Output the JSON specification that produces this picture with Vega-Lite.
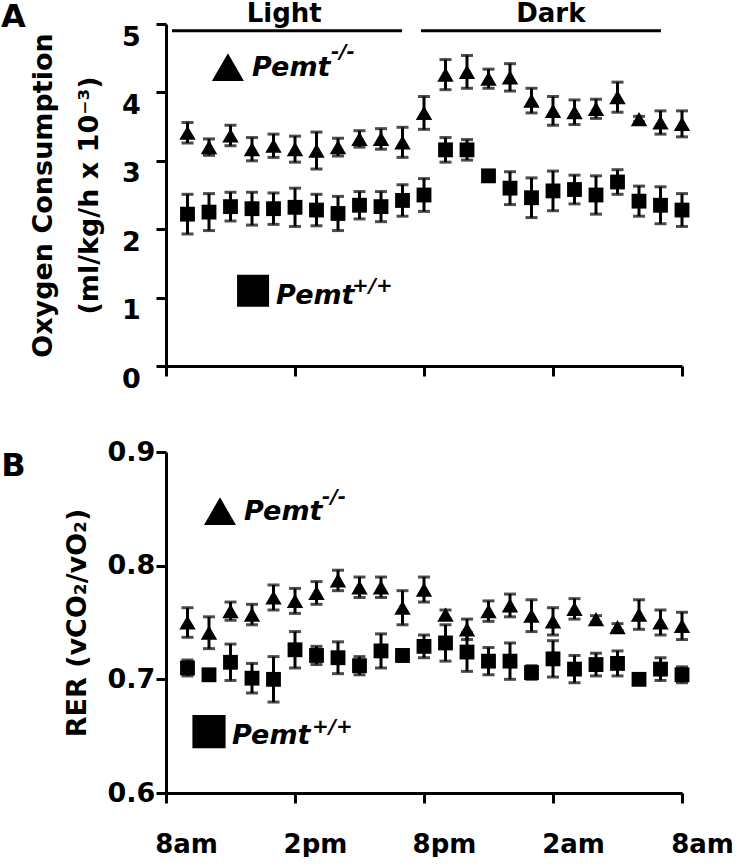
{
  "$schema": "https://vega.github.io/schema/vega-lite/v6.json",
  "padding": {"left": 0, "top": 0, "right": 0, "bottom": 0},
  "background": "white",
  "spacing": 46,
  "config": {
    "view": {"stroke": null},
    "font": "DejaVu Sans",
    "axis": {
      "domainColor": "black", "tickColor": "black", "domainWidth": 3, "tickWidth": 3, "tickSize": 10,
      "grid": false, "labelColor": "black", "titleColor": "black",
      "labelFont": "DejaVu Sans", "labelFontWeight": "bold", "labelFontSize": 27,
      "titleFont": "DejaVu Sans", "titleFontWeight": "bold", "titleFontSize": 27
    }
  },
  "datasets": {
    "a": [
      {"h":1,"g":"ko","v":3.41,"e":0.15},{"h":2,"g":"ko","v":3.20,"e":0.12},{"h":3,"g":"ko","v":3.37,"e":0.15},{"h":4,"g":"ko","v":3.17,"e":0.17},
      {"h":5,"g":"ko","v":3.22,"e":0.17},{"h":6,"g":"ko","v":3.17,"e":0.19},{"h":7,"g":"ko","v":3.15,"e":0.27},{"h":8,"g":"ko","v":3.20,"e":0.13},
      {"h":9,"g":"ko","v":3.32,"e":0.12},{"h":10,"g":"ko","v":3.32,"e":0.15},{"h":11,"g":"ko","v":3.27,"e":0.22},{"h":12,"g":"ko","v":3.70,"e":0.24},
      {"h":13,"g":"ko","v":4.26,"e":0.22},{"h":14,"g":"ko","v":4.30,"e":0.24},{"h":15,"g":"ko","v":4.20,"e":0.14},{"h":16,"g":"ko","v":4.22,"e":0.20},
      {"h":17,"g":"ko","v":3.88,"e":0.18},{"h":18,"g":"ko","v":3.73,"e":0.21},{"h":19,"g":"ko","v":3.71,"e":0.18},{"h":20,"g":"ko","v":3.76,"e":0.14},
      {"h":21,"g":"ko","v":3.93,"e":0.22},{"h":22,"g":"ko","v":3.61,"e":0.04},{"h":23,"g":"ko","v":3.56,"e":0.17},{"h":24,"g":"ko","v":3.54,"e":0.19},
      {"h":1,"g":"wt","v":2.22,"e":0.29},{"h":2,"g":"wt","v":2.25,"e":0.27},{"h":3,"g":"wt","v":2.33,"e":0.21},{"h":4,"g":"wt","v":2.30,"e":0.24},
      {"h":5,"g":"wt","v":2.30,"e":0.23},{"h":6,"g":"wt","v":2.32,"e":0.28},{"h":7,"g":"wt","v":2.28,"e":0.23},{"h":8,"g":"wt","v":2.23,"e":0.25},
      {"h":9,"g":"wt","v":2.35,"e":0.20},{"h":10,"g":"wt","v":2.33,"e":0.22},{"h":11,"g":"wt","v":2.42,"e":0.23},{"h":12,"g":"wt","v":2.50,"e":0.24},
      {"h":13,"g":"wt","v":3.16,"e":0.18},{"h":14,"g":"wt","v":3.16,"e":0.15},{"h":15,"g":"wt","v":2.78,"e":0.04},{"h":16,"g":"wt","v":2.60,"e":0.24},
      {"h":17,"g":"wt","v":2.46,"e":0.29},{"h":18,"g":"wt","v":2.56,"e":0.29},{"h":19,"g":"wt","v":2.58,"e":0.21},{"h":20,"g":"wt","v":2.50,"e":0.28},
      {"h":21,"g":"wt","v":2.69,"e":0.18},{"h":22,"g":"wt","v":2.41,"e":0.22},{"h":23,"g":"wt","v":2.35,"e":0.27},{"h":24,"g":"wt","v":2.28,"e":0.24}
    ],
    "b": [
      {"h":1,"g":"ko","v":0.750,"e":0.013},{"h":2,"g":"ko","v":0.741,"e":0.014},{"h":3,"g":"ko","v":0.760,"e":0.008},{"h":4,"g":"ko","v":0.757,"e":0.009},
      {"h":5,"g":"ko","v":0.772,"e":0.011},{"h":6,"g":"ko","v":0.769,"e":0.011},{"h":7,"g":"ko","v":0.776,"e":0.010},{"h":8,"g":"ko","v":0.787,"e":0.009},
      {"h":9,"g":"ko","v":0.781,"e":0.009},{"h":10,"g":"ko","v":0.781,"e":0.009},{"h":11,"g":"ko","v":0.763,"e":0.015},{"h":12,"g":"ko","v":0.779,"e":0.011},
      {"h":13,"g":"ko","v":0.757,"e":0.004},{"h":14,"g":"ko","v":0.744,"e":0.009},{"h":15,"g":"ko","v":0.760,"e":0.009},{"h":16,"g":"ko","v":0.765,"e":0.010},
      {"h":17,"g":"ko","v":0.756,"e":0.014},{"h":18,"g":"ko","v":0.751,"e":0.012},{"h":19,"g":"ko","v":0.762,"e":0.009},{"h":20,"g":"ko","v":0.753,"e":0.003},
      {"h":21,"g":"ko","v":0.746,"e":0.003},{"h":22,"g":"ko","v":0.757,"e":0.013},{"h":23,"g":"ko","v":0.750,"e":0.011},{"h":24,"g":"ko","v":0.747,"e":0.012},
      {"h":1,"g":"wt","v":0.710,"e":0.007},{"h":2,"g":"wt","v":0.704,"e":0.003},{"h":3,"g":"wt","v":0.715,"e":0.016},{"h":4,"g":"wt","v":0.701,"e":0.013},
      {"h":5,"g":"wt","v":0.700,"e":0.020},{"h":6,"g":"wt","v":0.726,"e":0.016},{"h":7,"g":"wt","v":0.721,"e":0.008},{"h":8,"g":"wt","v":0.719,"e":0.014},
      {"h":9,"g":"wt","v":0.712,"e":0.008},{"h":10,"g":"wt","v":0.725,"e":0.015},{"h":11,"g":"wt","v":0.721,"e":0.005},{"h":12,"g":"wt","v":0.729,"e":0.010},
      {"h":13,"g":"wt","v":0.732,"e":0.016},{"h":14,"g":"wt","v":0.724,"e":0.017},{"h":15,"g":"wt","v":0.716,"e":0.012},{"h":16,"g":"wt","v":0.716,"e":0.016},
      {"h":17,"g":"wt","v":0.706,"e":0.006},{"h":18,"g":"wt","v":0.718,"e":0.016},{"h":19,"g":"wt","v":0.709,"e":0.012},{"h":20,"g":"wt","v":0.713,"e":0.010},
      {"h":21,"g":"wt","v":0.714,"e":0.011},{"h":22,"g":"wt","v":0.700,"e":0.003},{"h":23,"g":"wt","v":0.709,"e":0.010},{"h":24,"g":"wt","v":0.704,"e":0.007}
    ]
  },
  "vconcat": [
    {
      "width": 516, "height": 342,
      "layer": [
        {
          "data": {"name": "a"},
          "mark": {"type": "errorbar", "ticks": true, "size": 12, "thickness": 3, "color": "black"},
          "encoding": {
            "x": {"field": "h", "type": "quantitative", "scale": {"domain": [0, 24], "nice": false},
                  "axis": {"values": [0, 6, 12, 18, 24], "labels": false, "title": null}},
            "y": {"field": "v", "type": "quantitative", "scale": {"domain": [0, 5], "nice": false},
                  "axis": {"values": [0, 1, 2, 3, 4, 5], "format": "d", "labelAlign": "center", "labelPadding": 25, "labelBaseline": "top",
                           "title": ["Oxygen Consumption", "(ml/kg/h x 10⁻³)"], "titleLineHeight": 46, "titlePadding": 18}},
            "yError": {"field": "e"}
          }
        },
        {
          "data": {"name": "a"},
          "transform": [{"filter": "datum.g == 'ko'"}],
          "mark": {"type": "point", "shape": "triangle-up", "filled": true, "opacity": 1, "color": "black", "size": 270},
          "encoding": {"x": {"field": "h", "type": "quantitative"}, "y": {"field": "v", "type": "quantitative"}}
        },
        {
          "data": {"name": "a"},
          "transform": [{"filter": "datum.g == 'wt'"}],
          "mark": {"type": "point", "shape": "square", "filled": true, "opacity": 1, "color": "black", "size": 220},
          "encoding": {"x": {"field": "h", "type": "quantitative"}, "y": {"field": "v", "type": "quantitative"}}
        },
        {
          "data": {"values": [{}]},
          "mark": {"type": "rule", "strokeWidth": 3, "color": "black"},
          "encoding": {"x": {"datum": 0.28}, "x2": {"datum": 10.98}, "y": {"datum": 4.9}}
        },
        {
          "data": {"values": [{}]},
          "mark": {"type": "rule", "strokeWidth": 3, "color": "black"},
          "encoding": {"x": {"datum": 11.86}, "x2": {"datum": 23.02}, "y": {"datum": 4.9}}
        },
        {
          "data": {"values": [{}]},
          "mark": {"type": "text", "text": "Light", "fontSize": 26, "fontWeight": "bold", "align": "center", "baseline": "alphabetic", "color": "black"},
          "encoding": {"x": {"datum": 5.5}, "y": {"datum": 5.03}}
        },
        {
          "data": {"values": [{}]},
          "mark": {"type": "text", "text": "Dark", "fontSize": 26, "fontWeight": "bold", "align": "center", "baseline": "alphabetic", "color": "black"},
          "encoding": {"x": {"datum": 17.9}, "y": {"datum": 5.03}}
        },
        {
          "data": {"values": [{}]},
          "mark": {"type": "text", "text": "A", "fontSize": 32, "fontWeight": "bold", "align": "center", "baseline": "middle", "color": "black"},
          "encoding": {"x": {"datum": -7.1}, "y": {"datum": 5.1}}
        },
        {
          "data": {"values": [{}]},
          "mark": {"type": "point", "shape": "triangle-up", "filled": true, "opacity": 1, "color": "black", "size": 1024},
          "encoding": {"x": {"datum": 2.88}, "y": {"datum": 4.37}}
        },
        {
          "data": {"values": [{}]},
          "mark": {"type": "text", "text": "Pemt", "fontSize": 27, "fontWeight": "bold", "fontStyle": "italic", "align": "left", "baseline": "middle", "color": "black"},
          "encoding": {"x": {"datum": 4.0}, "y": {"datum": 4.35}}
        },
        {
          "data": {"values": [{}]},
          "mark": {"type": "text", "text": "-/-", "fontSize": 20, "fontWeight": "bold", "fontStyle": "italic", "align": "left", "baseline": "middle", "color": "black"},
          "encoding": {"x": {"datum": 7.67}, "y": {"datum": 4.59}}
        },
        {
          "data": {"values": [{}]},
          "mark": {"type": "point", "shape": "square", "filled": true, "opacity": 1, "color": "black", "size": 1024},
          "encoding": {"x": {"datum": 4.05}, "y": {"datum": 1.10}}
        },
        {
          "data": {"values": [{}]},
          "mark": {"type": "text", "text": "Pemt", "fontSize": 27, "fontWeight": "bold", "fontStyle": "italic", "align": "left", "baseline": "middle", "color": "black"},
          "encoding": {"x": {"datum": 5.12}, "y": {"datum": 1.02}}
        },
        {
          "data": {"values": [{}]},
          "mark": {"type": "text", "text": "+/+", "fontSize": 20, "fontWeight": "bold", "fontStyle": "italic", "align": "left", "baseline": "middle", "color": "black"},
          "encoding": {"x": {"datum": 8.65}, "y": {"datum": 1.17}}
        }
      ]
    },
    {
      "width": 516, "height": 341,
      "layer": [
        {
          "data": {"name": "b"},
          "mark": {"type": "errorbar", "ticks": true, "size": 12, "thickness": 3, "color": "black"},
          "encoding": {
            "x": {"field": "h", "type": "quantitative", "scale": {"domain": [0, 24], "nice": false},
                  "axis": {"values": [0, 6, 12, 18, 24], "title": null, "labelFontSize": 26, "labelPadding": 28, "labelOffset": 20, "labelFlush": false, "labelBaseline": "top",
                           "labelExpr": "datum.value == 0 ? '8am' : datum.value == 6 ? '2pm' : datum.value == 12 ? '8pm' : datum.value == 18 ? '2am' : '8am'"}},
            "y": {"field": "v", "type": "quantitative", "scale": {"domain": [0.6, 0.9], "nice": false},
                  "axis": {"values": [0.6, 0.7, 0.8, 0.9], "format": ".1f", "labelAlign": "center", "labelPadding": 25,
                           "title": "RER (vCO₂/vO₂)", "titlePadding": 16}},
            "yError": {"field": "e"}
          }
        },
        {
          "data": {"name": "b"},
          "transform": [{"filter": "datum.g == 'ko'"}],
          "mark": {"type": "point", "shape": "triangle-up", "filled": true, "opacity": 1, "color": "black", "size": 270},
          "encoding": {"x": {"field": "h", "type": "quantitative"}, "y": {"field": "v", "type": "quantitative"}}
        },
        {
          "data": {"name": "b"},
          "transform": [{"filter": "datum.g == 'wt'"}],
          "mark": {"type": "point", "shape": "square", "filled": true, "opacity": 1, "color": "black", "size": 220},
          "encoding": {"x": {"field": "h", "type": "quantitative"}, "y": {"field": "v", "type": "quantitative"}}
        },
        {
          "data": {"values": [{}]},
          "mark": {"type": "text", "text": "B", "fontSize": 32, "fontWeight": "bold", "align": "center", "baseline": "middle", "color": "black"},
          "encoding": {"x": {"datum": -7.1}, "y": {"datum": 0.888}}
        },
        {
          "data": {"values": [{}]},
          "mark": {"type": "point", "shape": "triangle-up", "filled": true, "opacity": 1, "color": "black", "size": 1024},
          "encoding": {"x": {"datum": 2.51}, "y": {"datum": 0.848}}
        },
        {
          "data": {"values": [{}]},
          "mark": {"type": "text", "text": "Pemt", "fontSize": 27, "fontWeight": "bold", "fontStyle": "italic", "align": "left", "baseline": "middle", "color": "black"},
          "encoding": {"x": {"datum": 3.63}, "y": {"datum": 0.847}}
        },
        {
          "data": {"values": [{}]},
          "mark": {"type": "text", "text": "-/-", "fontSize": 20, "fontWeight": "bold", "fontStyle": "italic", "align": "left", "baseline": "middle", "color": "black"},
          "encoding": {"x": {"datum": 7.26}, "y": {"datum": 0.860}}
        },
        {
          "data": {"values": [{}]},
          "mark": {"type": "point", "shape": "square", "filled": true, "opacity": 1, "color": "black", "size": 1100},
          "encoding": {"x": {"datum": 2.0}, "y": {"datum": 0.654}}
        },
        {
          "data": {"values": [{}]},
          "mark": {"type": "text", "text": "Pemt", "fontSize": 27, "fontWeight": "bold", "fontStyle": "italic", "align": "left", "baseline": "middle", "color": "black"},
          "encoding": {"x": {"datum": 3.07}, "y": {"datum": 0.650}}
        },
        {
          "data": {"values": [{}]},
          "mark": {"type": "text", "text": "+/+", "fontSize": 20, "fontWeight": "bold", "fontStyle": "italic", "align": "left", "baseline": "middle", "color": "black"},
          "encoding": {"x": {"datum": 6.79}, "y": {"datum": 0.658}}
        }
      ]
    }
  ]
}
